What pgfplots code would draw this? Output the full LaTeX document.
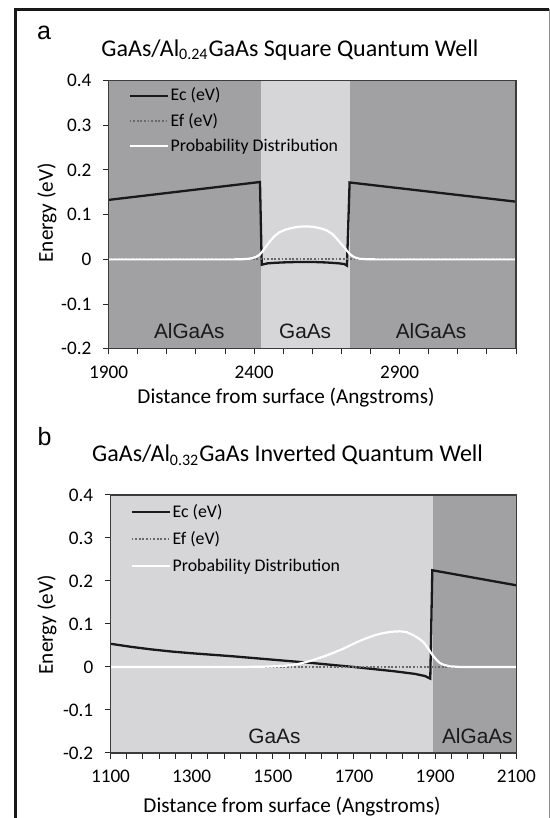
\documentclass[border=0pt]{standalone}
\usepackage{fontspec}
\setmainfont{Carlito}
\newfontfamily\arialfont{Liberation Sans}
\usepackage{pgfplots}
\pgfplotsset{compat=1.18}
\definecolor{regdark}{RGB}{161,161,164}
\definecolor{reglight}{RGB}{214,214,216}
\definecolor{efgray}{RGB}{105,105,105}
\definecolor{axgray}{RGB}{60,60,60}
\definecolor{ecblack}{RGB}{25,25,25}
\pgfplotsset{
  qw/.style={
    scale only axis, axis on top, ymin=-0.2, ymax=0.4,
    ytick={-0.2,-0.1,0,0.1,0.2,0.3,0.4},
    yticklabels={-0.2,-0.1,0,0.1,0.2,0.3,0.4},
    tick align=outside, tick pos=left,
    major tick length=2.8pt, minor tick length=2.8pt,
    tick style={black!85, line width=0.5pt},
    axis line style={axgray, line width=0.6pt},
    tick label style={font=\fontsize{9.6}{11}\selectfont},
    yticklabel style={xshift=-2.3pt},
    xticklabel style={yshift=-2.3pt},
    every axis title/.style={anchor=center, font=\fontsize{12}{14}\selectfont},
    legend cell align=left,
    legend image code/.code={\draw[#1] (0pt,0.3pt) -- (19pt,0.3pt);},
    legend style={draw=none, fill=none, anchor=north west,
      font=\fontsize{8.9}{10}\selectfont, inner sep=0pt,
      nodes={inner sep=1pt, text height=6.5pt, text depth=2pt}},
  },
  ecs/.style={ecblack, line width=1.15pt},
  efs/.style={efgray, line width=0.9pt, dash pattern=on 0.9pt off 0.9pt},
  prs/.style={white, line width=1.1pt},
}
\begin{document}
\begin{tikzpicture}
\useasboundingbox (0,0) rectangle (275pt,409pt);
% outer frame
\draw[black!90, line width=1.35pt] (7.65pt,0pt) -- (7.65pt,404.25pt) -- (274.5pt,404.25pt);
\draw[black!45, line width=0.5pt] (274.5pt,404.25pt) -- (274.5pt,0pt);

% ---------------- panel a ----------------
\begin{axis}[qw,
  at={(54.35pt,234.6pt)}, anchor=south west,
  width=203.65pt, height=134.15pt,
  xmin=1900, xmax=3300,
  xtick={1900,2400,2900}, xticklabels={1900,2400,2900},
  minor xtick={2000,2100,2200,2300,2500,2600,2700,2800,3000,3100,3200,3300},
  title={GaAs/Al\textsubscript{0.24}GaAs Square Quantum Well},
  title style={at={(axis description cs:0.445,1.1137)}},
  legend style={at={(axis description cs:0.0474,0.981)}, row sep=2pt},
]
\addplot[draw=none, fill=regdark, forget plot] coordinates {(1900,-0.2) (1900,0.4) (2424,0.4) (2424,-0.2)} -- cycle;
\addplot[draw=none, fill=reglight, forget plot] coordinates {(2424,-0.2) (2424,0.4) (2731,0.4) (2731,-0.2)} -- cycle;
\addplot[draw=none, fill=regdark, forget plot] coordinates {(2731,-0.2) (2731,0.4) (3300,0.4) (3300,-0.2)} -- cycle;
\addplot[ecs] coordinates {(1900,0.133) (2420,0.173) (2426,-0.012) (2445,-0.009) (2470,-0.0078) (2500,-0.0068) (2540,-0.006) (2575,-0.0058) (2610,-0.006) (2650,-0.007) (2690,-0.0088) (2710,-0.0105) (2719,-0.014) (2728,0.172) (3300,0.129)};
\addlegendentry{Ec (eV)}
\addplot[efs] coordinates {(1900,0) (3300,0)};
\addlegendentry{Ef (eV)}
\addplot[prs] coordinates {(1900,0) (2330,0) (2360,0.0003) (2385,0.0015) (2405,0.005) (2418,0.010) (2430,0.019) (2442,0.030) (2455,0.041) (2470,0.052) (2488,0.061) (2510,0.067) (2535,0.071) (2555,0.073) (2575,0.0738) (2600,0.073) (2625,0.070) (2649,0.065) (2668,0.057) (2683,0.047) (2700,0.034) (2712,0.025) (2722,0.017) (2732,0.010) (2745,0.0045) (2763,0.0012) (2790,0.0002) (2820,0) (3300,0)};
\addlegendentry{Probability Distribution}
\node[font=\arialfont\fontsize{10.4}{12}\selectfont, anchor=base, text=black!90] at (axis cs:2177,-0.177) {AlGaAs};
\node[font=\arialfont\fontsize{10.4}{12}\selectfont, anchor=base, text=black!90] at (axis cs:2575,-0.177) {GaAs};
\node[font=\arialfont\fontsize{10.4}{12}\selectfont, anchor=base, text=black!90] at (axis cs:3008,-0.177) {AlGaAs};
\end{axis}
\node[font=\arialfont\fontsize{12.5}{14}\selectfont] at (22pt,392.5pt) {a};
\node[font=\fontsize{10.6}{12}\selectfont] at (143pt,210pt) {Distance from surface (Angstroms)};
\node[font=\fontsize{10.6}{12}\selectfont, rotate=90] at (23.5pt,302.5pt) {Energy (eV)};

% ---------------- panel b ----------------
\begin{axis}[qw,
  at={(55.25pt,32.5pt)}, anchor=south west,
  width=202.9pt, height=129pt,
  xmin=1100, xmax=2100,
  xtick={1100,1300,1500,1700,1900,2100}, xticklabels={1100,1300,1500,1700,1900,2100},
  minor xtick={1140,1180,1220,1260,1340,1380,1420,1460,1540,1580,1620,1660,1740,1780,1820,1860,1940,1980,2020,2060},
  title={GaAs/Al\textsubscript{0.32}GaAs Inverted Quantum Well},
  title style={at={(axis description cs:0.4364,1.155)}},
  legend style={at={(axis description cs:0.048,0.973)}, row sep=3pt},
]
\addplot[draw=none, fill=reglight, forget plot] coordinates {(1100,-0.2) (1100,0.4) (1895,0.4) (1895,-0.2)} -- cycle;
\addplot[draw=none, fill=regdark, forget plot] coordinates {(1895,-0.2) (1895,0.4) (2100,0.4) (2100,-0.2)} -- cycle;
\addplot[ecs] coordinates {(1100,0.054) (1150,0.047) (1200,0.041) (1250,0.036) (1300,0.032) (1400,0.025) (1500,0.017) (1600,0.009) (1700,0.0) (1800,-0.010) (1850,-0.016) (1875,-0.021) (1888,-0.027) (1893,0.225) (2100,0.19)};
\addlegendentry{Ec (eV)}
\addplot[efs] coordinates {(1100,0) (2100,0)};
\addlegendentry{Ef (eV)}
\addplot[prs] coordinates {(1100,0) (1420,0) (1480,0.0008) (1526,0.0025) (1550,0.005) (1567,0.008) (1590,0.0135) (1608,0.019) (1630,0.026) (1649,0.033) (1670,0.041) (1690,0.050) (1710,0.059) (1731,0.067) (1752,0.074) (1772,0.079) (1793,0.082) (1813,0.083) (1830,0.081) (1846,0.074) (1860,0.066) (1871,0.058) (1880,0.047) (1888,0.035) (1895,0.026) (1904,0.016) (1912,0.009) (1920,0.0055) (1936,0.0015) (1960,0.0002) (1980,0) (2100,0)};
\addlegendentry{Probability Distribution}
\node[font=\arialfont\fontsize{10.4}{12}\selectfont, anchor=base, text=black!90] at (axis cs:1504,-0.178) {GaAs};
\node[font=\arialfont\fontsize{10.4}{12}\selectfont, anchor=base, text=black!90] at (axis cs:2004,-0.178) {AlGaAs};
\end{axis}
\node[font=\arialfont\fontsize{12.5}{14}\selectfont] at (22.3pt,190.5pt) {b};
\node[font=\fontsize{10.6}{12}\selectfont] at (146pt,5.5pt) {Distance from surface (Angstroms)};
\node[font=\fontsize{10.6}{12}\selectfont, rotate=90] at (23.5pt,96.5pt) {Energy (eV)};
\end{tikzpicture}
\end{document}
